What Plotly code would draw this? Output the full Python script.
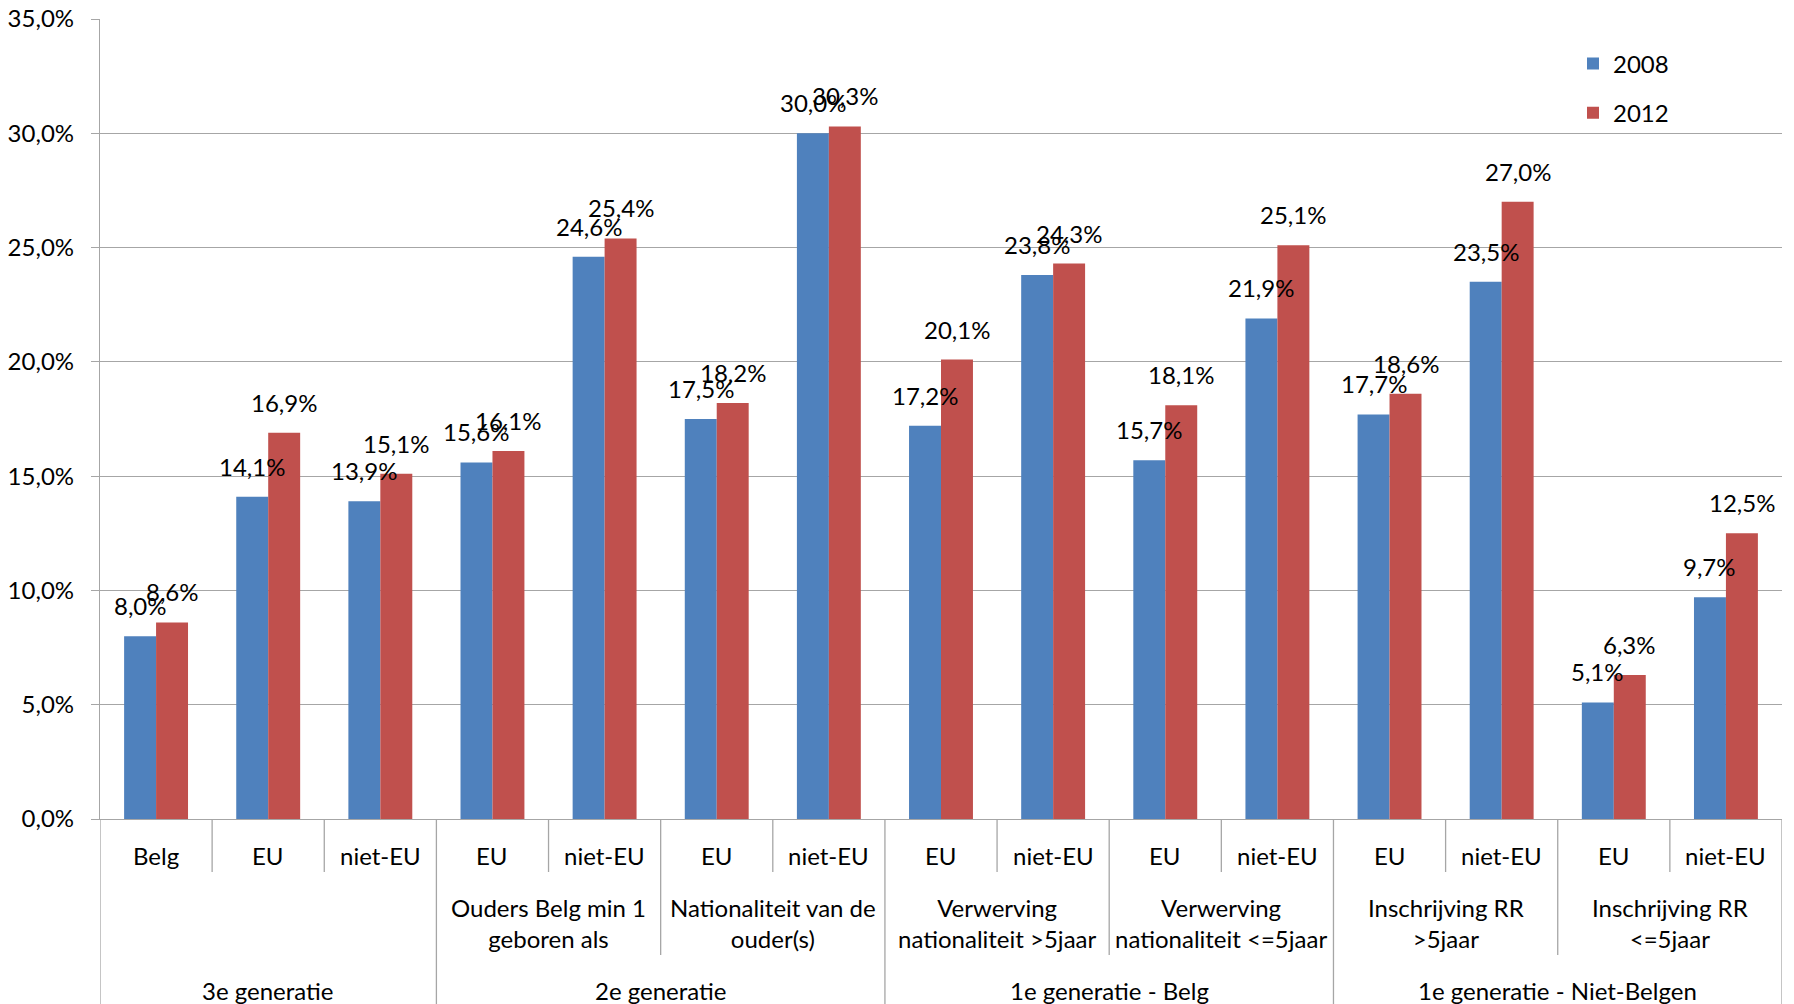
import plotly.graph_objects as go

# ---- data ----
categories = ["Belg", "EU", "niet-EU", "EU", "niet-EU", "EU", "niet-EU", "EU", "niet-EU",
              "EU", "niet-EU", "EU", "niet-EU", "EU", "niet-EU"]
subgroups = ["", "Ouders Belg min 1<br>geboren als", "Nationaliteit van de<br>ouder(s)",
             "Verwerving<br>nationaliteit &gt;5jaar", "Verwerving<br>nationaliteit &lt;=5jaar",
             "Inschrijving RR<br>&gt;5jaar", "Inschrijving RR<br>&lt;=5jaar"]
subgroup_sizes = [3, 2, 2, 2, 2, 2, 2]
groups = ["3e generatie", "2e generatie", "1e generatie - Belg", "1e generatie - Niet-Belgen"]
group_sizes = [3, 4, 4, 4]
v2008 = [8.0, 14.1, 13.9, 15.6, 24.6, 17.5, 30.0, 17.2, 23.8, 15.7, 21.9, 17.7, 23.5, 5.1, 9.7]
v2012 = [8.6, 16.9, 15.1, 16.1, 25.4, 18.2, 30.3, 20.1, 24.3, 18.1, 25.1, 18.6, 27.0, 6.3, 12.5]
series_names = ["2008", "2012"]
y_ticks = [0, 5, 10, 15, 20, 25, 30, 35]
y_tick_labels = ["0,0%", "5,0%", "10,0%", "15,0%", "20,0%", "25,0%", "30,0%", "35,0%"]

# ---- style ----
FONT = "Lato"
FS = 24
BLUE = "#4F81BD"
RED = "#C0504D"
GRID = "#A6A6A6"
BARGAP = 0.43
BODY = 8  # default page body margin
W, H = 1794 - BODY, 1004 - BODY
ML, MR, MT, MB = 100 - BODY, 12, 19 - BODY, 185
plot_h = H - MT - MB
plot_w = W - ML - MR

def py(px_below_axis):
    return -px_below_axis / plot_h

xs = list(range(len(categories)))
fig = go.Figure()
for name, vals, col, grp in [(series_names[0], v2008, BLUE, "a"), (series_names[1], v2012, RED, "b")]:
    fig.add_trace(go.Bar(x=xs, y=vals, name=name, marker=dict(color=col, line=dict(width=0)),
                         legendgroup=grp, hoverinfo="y"))

annotations = []
half = (1 - BARGAP) / 4
for vals, sign in [(v2008, -1), (v2012, 1)]:
    for i, v in enumerate(vals):
        annotations.append(dict(x=i + sign * half, y=v, xref="x", yref="y",
                                text=f"{v:.1f}%".replace(".", ","), showarrow=False,
                                yanchor="bottom", xanchor="center", yshift=14,
                                font=dict(family=FONT, size=FS, color="#000")))

# category labels
for i, c in enumerate(categories):
    annotations.append(dict(x=i, y=py(36), xref="x", yref="paper", text=c, showarrow=False,
                            yanchor="middle", font=dict(family=FONT, size=FS, color="#000")))

shapes = []
def vline(k, depth):
    shapes.append(dict(type="line", xref="x", yref="paper", x0=k - 0.5, x1=k - 0.5,
                       y0=0, y1=py(depth), line=dict(color=GRID, width=1.3)))

level2_bounds, level3_bounds = set(), set()
pos = 0
for s, n in zip(subgroups, subgroup_sizes):
    annotations.append(dict(x=pos + (n - 1) / 2, y=py(104), xref="x", yref="paper", text=s,
                            showarrow=False, yanchor="middle",
                            font=dict(family=FONT, size=FS, color="#000")))
    pos += n
    level2_bounds.add(pos)
pos = 0
level3_bounds.add(0)
for g, n in zip(groups, group_sizes):
    annotations.append(dict(x=pos + (n - 1) / 2, y=py(171), xref="x", yref="paper", text=g,
                            showarrow=False, yanchor="middle",
                            font=dict(family=FONT, size=FS, color="#000")))
    pos += n
    level3_bounds.add(pos)

for k in range(len(categories) + 1):
    if k in level3_bounds:
        vline(k, MB)
    elif k in level2_bounds:
        vline(k, 136)
    else:
        vline(k, 53)

annotations.append(dict(x=(1760 - 100) / plot_w, y=py(178), xref="paper", yref="paper",
                        text="28", showarrow=False, xanchor="left", yanchor="top",
                        font=dict(family=FONT, size=30, color="#8C8C8C")))

fig.update_layout(
    width=W, height=H,
    margin=dict(l=ML, r=MR, t=MT, b=MB, pad=0, autoexpand=False),
    paper_bgcolor="white", plot_bgcolor="white",
    separators=",.",
    barmode="group", bargap=BARGAP, bargroupgap=0,
    font=dict(family=FONT, size=FS, color="#000"),
    showlegend=True,
    legend=dict(x=(1573 - 100) / plot_w, y=0.972, xanchor="left", yanchor="top",
                traceorder="grouped", tracegroupgap=15, font=dict(family=FONT, size=FS, color="#000"),
                bgcolor="rgba(0,0,0,0)", itemwidth=30),
    xaxis=dict(range=[-0.5, len(categories) - 0.5], showticklabels=False, showgrid=False,
               zeroline=False, showline=True, linecolor=GRID, linewidth=1.3, ticks="",
               automargin=False),
    yaxis=dict(range=[0, 35], tickmode="array", tickvals=y_ticks, ticktext=y_tick_labels,
               showgrid=True, gridcolor=GRID, gridwidth=1.3, zeroline=False,
               showline=True, linecolor=GRID, linewidth=1.3, ticks="outside", ticklen=8,
               tickcolor=GRID, ticklabelstandoff=12, automargin=False,
               ticklabeloverflow="allow",
               tickfont=dict(family=FONT, size=FS, color="#000")),
    annotations=annotations,
    shapes=shapes,
)

fig.write_html("out.html")
